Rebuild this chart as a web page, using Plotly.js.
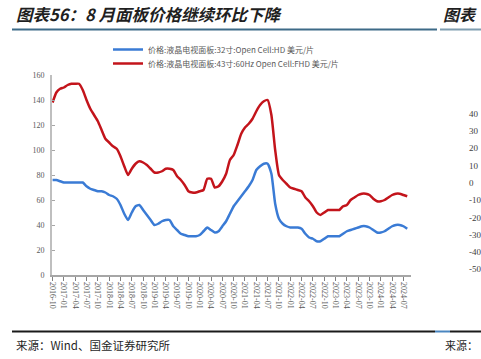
<!DOCTYPE html>
<html><head><meta charset="utf-8">
<script src="https://cdn.plot.ly/plotly-3.0.1.min.js"></script>
<style>html,body{margin:0;padding:0;background:#fff;}#chart{width:481px;height:359px;}</style>
</head><body><div id="chart"></div>
<script>
const months = [
"2016-10","2016-11","2016-12",
"2017-01","2017-02","2017-03","2017-04","2017-05","2017-06","2017-07","2017-08","2017-09","2017-10","2017-11","2017-12",
"2018-01","2018-02","2018-03","2018-04","2018-05","2018-06","2018-07","2018-08","2018-09","2018-10","2018-11","2018-12",
"2019-01","2019-02","2019-03","2019-04","2019-05","2019-06","2019-07","2019-08","2019-09","2019-10","2019-11","2019-12",
"2020-01","2020-02","2020-03","2020-04","2020-05","2020-06","2020-07","2020-08","2020-09","2020-10","2020-11","2020-12",
"2021-01","2021-02","2021-03","2021-04","2021-05","2021-06","2021-07","2021-08","2021-09","2021-10","2021-11","2021-12",
"2022-01","2022-02","2022-03","2022-04","2022-05","2022-06","2022-07","2022-08","2022-09","2022-10","2022-11","2022-12",
"2023-01","2023-02","2023-03","2023-04","2023-05","2023-06","2023-07","2023-08","2023-09","2023-10","2023-11","2023-12",
"2024-01","2024-02","2024-03","2024-04","2024-05","2024-06","2024-07","2024-08"];

const tickMonths = ["2016-10","2017-01","2017-04","2017-07","2017-10","2018-01","2018-04","2018-07","2018-10",
"2019-01","2019-04","2019-07","2019-10","2020-01","2020-04","2020-07","2020-10","2021-01","2021-04","2021-07","2021-10",
"2022-01","2022-04","2022-07","2022-10","2023-01","2023-04","2023-07","2023-10","2024-01","2024-04","2024-07"];

const seriesName32 = "价格:液晶电视面板:32寸:Open Cell:HD 美元/片";
const seriesName43 = "价格:液晶电视面板:43寸:60Hz Open Cell:FHD 美元/片";

const price32 = [76,76,75,74,74,74,74,74,74,71,
69,68,67,67,66,64,63,61,56,49,
44,50,55,56,52,48,44,40,41,43,
44,44,39,36,33,32,31,31,31,32,
35,38,36,34,35,39,43,49,55,59,
63,67,71,76,84,87,89,89,81,57,
45,41,39,38,38,38,37,33,30,29,
27,27,29,31,31,31,31,33,35,36,
37,38,39,39,38,36,34,34,35,37,
39,40,40,39,37];

const price43 = [138,146,149,150,152,153,153,153,148,140,
133,128,123,116,109,106,103,101,95,87,
80,85,89,91,90,88,85,82,82,83,
85,85,84,79,76,72,67,66,66,67,
68,77,77,70,71,75,81,92,96,104,
113,118,121,125,131,136,139,140,128,100,
80,76,73,70,69,68,67,62,59,55,
50,48,50,52,52,52,52,55,56,60,
62,64,65,65,64,61,59,59,60,62,
64,65,65,64,63];

const rightTickVals = [40,30,20,10,0,-10,-20,-30,-40,-50];
const rightTickText = ["40","30","20","10","0","-10","-20","-30","-40","-50"];

const serif = "Liberation Serif, Noto Sans CJK SC, serif";
const cjk = "Noto Sans CJK SC, sans-serif";

const traces = [
  {x: months, y: price32, name: seriesName32, type: "scatter", mode: "lines", legend: "legend",
   line: {color: "#3a7bd5", width: 2.5, shape: "spline", smoothing: 0.5}, hoverinfo: "skip"},
  {x: months, y: price43, name: seriesName43, type: "scatter", mode: "lines", legend: "legend2",
   line: {color: "#c3141b", width: 2.5, shape: "spline", smoothing: 0.5}, hoverinfo: "skip"},
  {x: [], y: [], yaxis: "y2", showlegend: false, type: "scatter", mode: "lines", hoverinfo: "skip"}
];

function px(xp){ return (xp - 52) / 359; }
function py(yp){ return (275 - yp) / 200; }

const legendFont = {family: cjk, size: 8, color: "#595959"};

const layout = {
  width: 481, height: 359,
  margin: {l: 52, r: 70, t: 75, b: 84},
  paper_bgcolor: "#fff", plot_bgcolor: "#fff",
  showlegend: true,
  legend: {x: px(108), y: py(35), xanchor: "left", yanchor: "top", orientation: "v",
           font: legendFont, bgcolor: "rgba(0,0,0,0)"},
  legend2: {x: px(108), y: py(49), xanchor: "left", yanchor: "top", orientation: "v",
           font: legendFont, bgcolor: "rgba(0,0,0,0)"},
  xaxis: {type: "category", categoryorder: "array", categoryarray: months, range: [-0.15, 95],
          tickvals: tickMonths, ticktext: tickMonths, tickangle: 90,
          ticks: "outside", ticklen: 4, tickcolor: "#808080", showline: true, linecolor: "#a6a6a6", linewidth: 1.5,
          showgrid: false, zeroline: false, tickfont: {family: serif, size: 8, color: "#595959"}},
  yaxis: {range: [0, 160], tickvals: [0,20,40,60,80,100,120,140,160], ticks: "inside", ticklen: 3, tickcolor: "#a6a6a6",
          showline: true, linecolor: "#bfbfbf", linewidth: 2, showgrid: false, zeroline: false,
          ticklabelstandoff: 4, tickfont: {family: serif, size: 8, color: "#595959"}},
  yaxis2: {overlaying: "y", side: "right", range: [-53.3, 62.3], tickvals: rightTickVals, ticktext: rightTickText,
           ticks: "", showline: false, showgrid: false, zeroline: false, ticklabelstandoff: 57,
           tickfont: {family: serif, size: 9, color: "#404040"}},
  annotations: [
    {xref: "paper", yref: "paper", x: px(14), y: py(14), xanchor: "left", yanchor: "middle", showarrow: false,
     text: "<b><i>图表56：8 月面板价格继续环比下降</i></b>", font: {family: cjk, size: 16.5, color: "#1f1f1f"}},
    {xref: "paper", yref: "paper", x: px(479), y: py(14), xanchor: "right", yanchor: "middle", showarrow: false,
     text: "<b><i>图表</i></b>", font: {family: cjk, size: 16, color: "#1f1f1f"}},
    {xref: "paper", yref: "paper", x: px(14), y: py(345), xanchor: "left", yanchor: "middle", showarrow: false,
     text: "来源：Wind、国金证券研究所", font: {family: cjk, size: 11.5, color: "#1f1f1f"}},
    {xref: "paper", yref: "paper", x: px(480), y: py(345), xanchor: "right", yanchor: "middle", showarrow: false,
     text: "来源：", font: {family: cjk, size: 11, color: "#1f1f1f"}}
  ],
  shapes: [
    {type: "line", xref: "paper", yref: "paper", x0: px(12), x1: px(437), y0: py(29.5), y1: py(29.5), line: {color: "#3d6a87", width: 2}},
    {type: "line", xref: "paper", yref: "paper", x0: px(440), x1: px(481), y0: py(29.5), y1: py(29.5), line: {color: "#7f9db0", width: 2}},
    {type: "line", xref: "paper", yref: "paper", x0: px(12), x1: px(435), y0: py(331.5), y1: py(331.5), line: {color: "#1a1a1a", width: 2}},
    {type: "line", xref: "paper", yref: "paper", x0: px(435), x1: px(450), y0: py(331.5), y1: py(331.5), line: {color: "#4a86c0", width: 2}},
    {type: "line", xref: "paper", yref: "paper", x0: px(450), x1: px(481), y0: py(331.5), y1: py(331.5), line: {color: "#1a1a1a", width: 2}}
  ]
};

Plotly.newPlot("chart", traces, layout, {staticPlot: true, displayModeBar: false});
</script>
</body></html>
